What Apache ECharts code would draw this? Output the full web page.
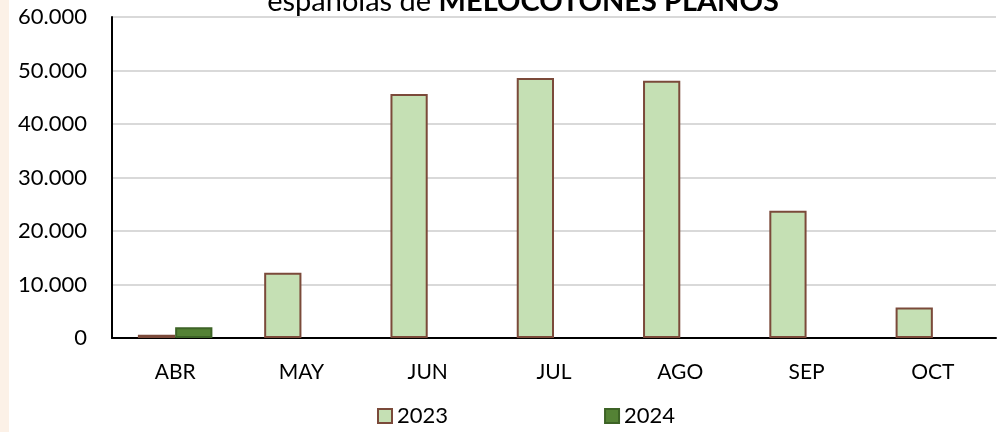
<!DOCTYPE html>
<html>
<head>
<meta charset="utf-8">
<script src="https://cdn.jsdelivr.net/npm/echarts@6/dist/echarts.min.js"></script>
<style>
  html, body { margin: 0; padding: 0; background: #fff; }
  #main { width: 1000px; height: 432px; }
</style>
</head>
<body>
<div id="main"></div>
<script>
// meses de la campaña
var months = ['ABR', 'MAY', 'JUN', 'JUL', 'AGO', 'SEP', 'OCT'];
var data2023 = [600, 12200, 45600, 48600, 48100, 23800, 5700];
var data2024 = [2000, 0, 0, 0, 0, 0, 0];
var yTicks = [0, 10000, 20000, 30000, 40000, 50000, 60000];

var chart = echarts.init(document.getElementById('main'));

function fmt(v) {
  return String(v).replace(/\B(?=(\d{3})+(?!\d))/g, '.');
}
// los ceros no se dibujan como barra
function noZero(arr) {
  return arr.map(function (v) { return v === 0 ? '-' : v; });
}

var option = {
  animation: false,
  textStyle: { fontFamily: 'Lato' },
  graphic: [{
    type: 'rect',
    left: 0, top: 0,
    shape: { width: 9, height: 432 },
    style: { fill: '#fcf1e7' },
    z: -1
  }],
  title: {
    text: '{n|españolas de }{b|MELOCOTONES PLANOS}',
    left: 518,
    textAlign: 'center',
    top: -18,
    textStyle: {
      rich: {
        n: { fontFamily: 'Lato', fontSize: 29, fontWeight: 'normal', color: '#000' },
        b: { fontFamily: 'Lato', fontSize: 29, fontWeight: 'bold', color: '#000' }
      }
    }
  },
  legend: {
    data: ['2023', '2024'],
    bottom: 0,
    left: 372,
    itemWidth: 14,
    itemHeight: 14,
    itemGap: 156,
    icon: 'rect',
    textStyle: { fontSize: 22, color: '#000', fontFamily: 'Lato', padding: [0, 0, 0, 0] }
  },
  grid: { left: 112, right: 4, top: 17, bottom: 94 },
  xAxis: {
    type: 'category',
    data: months,
    axisLine: { lineStyle: { color: '#000', width: 2 } },
    axisTick: { show: false },
    axisLabel: { fontSize: 21, color: '#000', margin: 24 }
  },
  yAxis: {
    type: 'value',
    min: yTicks[0],
    max: yTicks[yTicks.length - 1],
    interval: 10000,
    axisLine: { show: true, lineStyle: { color: '#000', width: 2 } },
    axisTick: { show: false },
    splitLine: { lineStyle: { color: '#d9d9d9', width: 2 } },
    axisLabel: { fontSize: 22, color: '#000', margin: 25, formatter: fmt }
  },
  series: [{
    name: '2023',
    type: 'bar',
    data: noZero(data2023),
    barGap: '0%',
    barCategoryGap: '41%',
    itemStyle: { color: '#c5e0b4', borderColor: '#7b4a3a', borderWidth: 2 }
  }, {
    name: '2024',
    type: 'bar',
    data: noZero(data2024),
    itemStyle: { color: '#548235', borderColor: '#3d6326', borderWidth: 2 }
  }]
};

chart.setOption(option);
</script>
</body>
</html>
